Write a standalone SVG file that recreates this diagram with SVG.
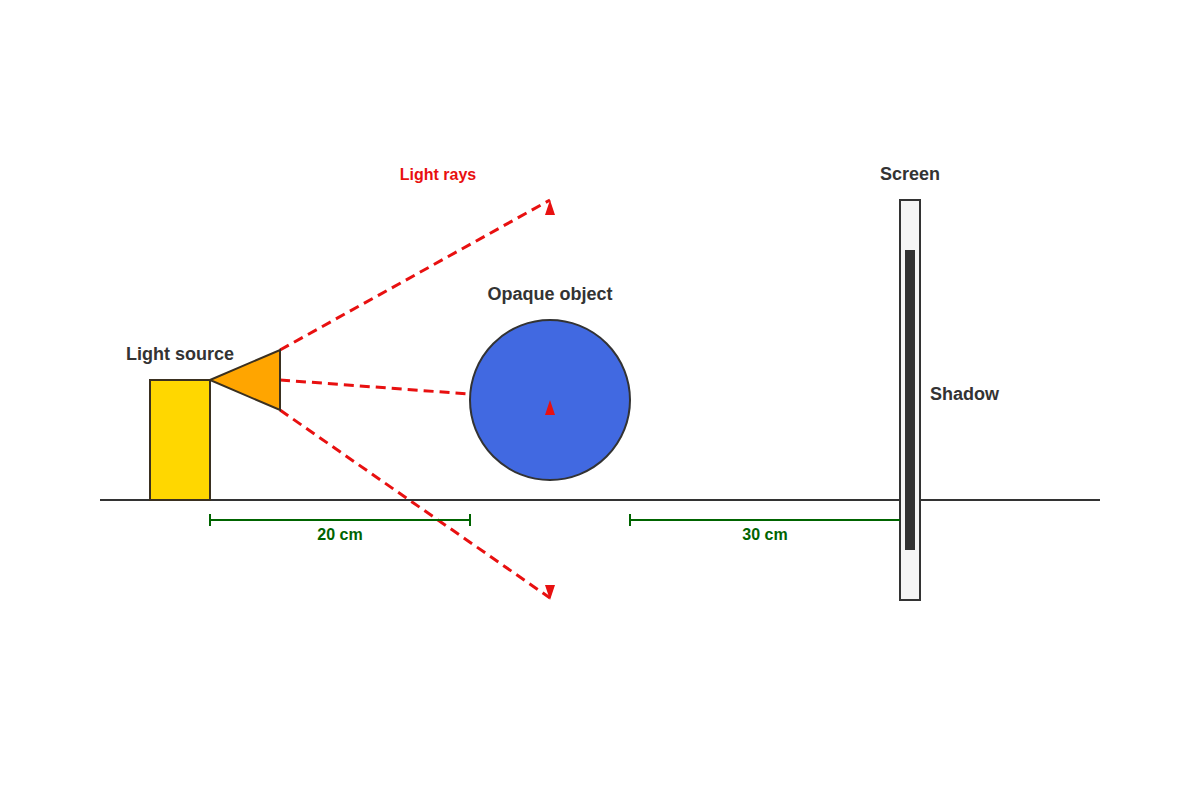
<svg xmlns="http://www.w3.org/2000/svg" width="1200" height="800" viewBox="0 0 1200 800">
<style>
text{font-family:"Liberation Sans",Arial,sans-serif;font-weight:bold;font-size:18px;fill:#333}
.ray{stroke:#e81010;stroke-width:3;stroke-dasharray:10,6;fill:none}
.dim{stroke:#006400;stroke-width:2;fill:none}
.dt{fill:#006400;font-size:16px}
.ah{fill:#e81010}
</style>
<rect width="1200" height="800" fill="#fff"/>
<g id="connectors">
<line class="ray" x1="280" y1="350" x2="550" y2="200"/>
<line class="ray" x1="280" y1="380" x2="550" y2="400"/>
<line class="ray" x1="280" y1="410" x2="550" y2="598"/>
</g>
<line x1="100" y1="500" x2="1100" y2="500" stroke="#333" stroke-width="2"/>
<g id="light-source">
<rect x="150" y="380" width="60" height="120" fill="#ffd700" stroke="#3a3020" stroke-width="2"/>
<polygon points="210,380 280,350 280,410" fill="#ffa500" stroke="#3a3020" stroke-width="2"/>
<text x="180" y="360" text-anchor="middle">Light source</text>
</g>
<g id="object">
<circle cx="550" cy="400" r="80" fill="#4169e1" stroke="#333" stroke-width="2"/>
<text x="550" y="300" text-anchor="middle">Opaque object</text>
</g>
<g id="arrowheads">
<polygon class="ah" points="550,200 555,215 545,215"/>
<polygon class="ah" points="550,400 555,415 545,415"/>
<polygon class="ah" points="550,600 555,585 545,585"/>
<text x="438" y="180" text-anchor="middle" style="fill:#e81010;font-size:16px">Light rays</text>
</g>
<g id="screen">
<rect x="900" y="200" width="20" height="400" fill="#f5f5f5" stroke="#333" stroke-width="2"/>
<rect x="905" y="250" width="10" height="300" fill="#333"/>
<text x="910" y="180" text-anchor="middle">Screen</text>
<text x="930" y="400">Shadow</text>
</g>
<g id="dims">
<line class="dim" x1="210" y1="520" x2="470" y2="520"/>
<line class="dim" x1="210" y1="514" x2="210" y2="526"/>
<line class="dim" x1="470" y1="514" x2="470" y2="526"/>
<text class="dt" x="340" y="540" text-anchor="middle">20 cm</text>
<line class="dim" x1="630" y1="520" x2="900" y2="520"/>
<line class="dim" x1="630" y1="514" x2="630" y2="526"/>
<text class="dt" x="765" y="540" text-anchor="middle">30 cm</text>
</g>
</svg>
